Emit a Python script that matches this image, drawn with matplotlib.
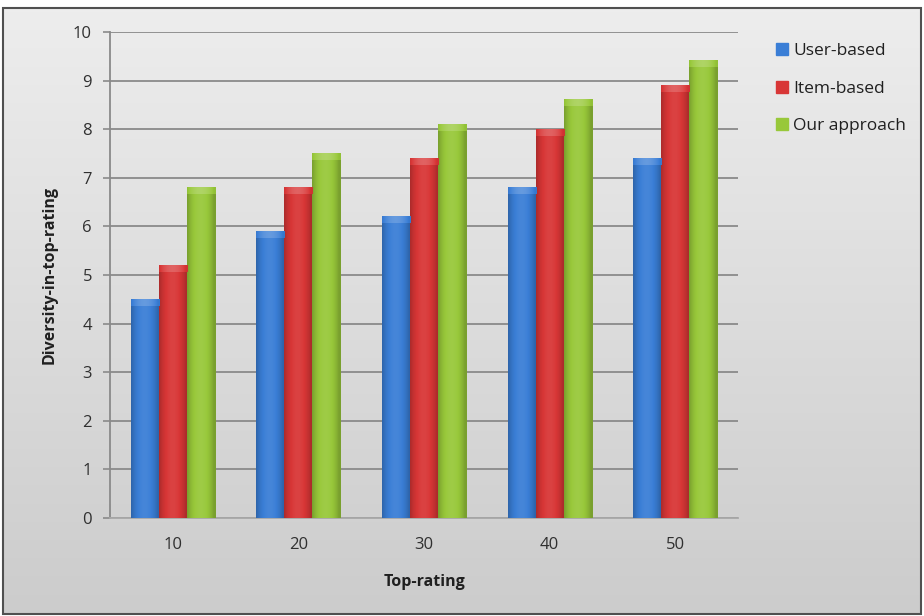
import numpy as np
import matplotlib
matplotlib.use("Agg")
import matplotlib.pyplot as plt
from matplotlib.colors import to_rgb
from matplotlib.lines import Line2D
from matplotlib.patches import Rectangle

plt.rcParams['font.family'] = ['Open Sans', 'DejaVu Sans']

categories = ["10", "20", "30", "40", "50"]
series_names = ["User-based", "Item-based", "Our approach"]
user_based = [4.5, 5.9, 6.2, 6.8, 7.4]
item_based = [5.2, 6.8, 7.4, 8.0, 8.9]
our_approach = [6.8, 7.5, 8.1, 8.6, 9.4]
y_ticks = [0, 1, 2, 3, 4, 5, 6, 7, 8, 9, 10]

colors = ["#3a7ed6", "#d83636", "#98c83a"]
series = [user_based, item_based, our_approach]

W, H = 924, 616
fig = plt.figure(figsize=(W / 100, H / 100), dpi=100)

# Background: white strip at top, grey gradient panel with dark border
bg = fig.add_axes([0, 0, 1, 1], zorder=-10)
bg.set_xlim(0, W)
bg.set_ylim(H, 0)
bg.axis("off")
grad = np.linspace(0.93, 0.80, 256)[:, None]
grad = np.repeat(grad, 2, axis=1)
bg.imshow(np.dstack([grad, grad, grad]), extent=(3, 921, 614, 8),
          aspect="auto", interpolation="bilinear")
bg.add_patch(Rectangle((3, 8), 918, 606, fill=False, ec="#505050", lw=1.5))

ax = fig.add_axes([110 / W, (H - 518) / H, 628 / W, (518 - 32) / H])
ax.patch.set_alpha(0)

x = np.arange(len(categories))
width = 0.223
offsets = [-width, 0, width]


def shade(rgb, f):
    rgb = np.array(rgb)
    if f >= 1:
        return rgb + (1 - rgb) * (f - 1)
    return rgb * f


t = np.linspace(0, 1, 128)
profile = 0.80 + 0.26 * np.sin(np.pi * np.clip(t * 1.1 - 0.02, 0, 1)) ** 0.8
cap_h = 0.13

for vals, col, off in zip(series, colors, offsets):
    base = to_rgb(col)
    bars = ax.bar(x + off, vals, width, color="none", edgecolor="none", zorder=3)
    body = np.array([[np.clip(shade(base, f), 0, 1) for f in profile]])
    cap = np.array([[np.clip(shade(base, f + 0.16), 0, 1) for f in profile]])
    for b in bars:
        x0, w, h = b.get_x(), b.get_width(), b.get_height()
        im = ax.imshow(body, extent=(x0, x0 + w, 0, h), aspect="auto",
                       interpolation="bilinear", zorder=3)
        im.set_clip_path(b)
        ax.imshow(cap, extent=(x0, x0 + w, h - cap_h, h), aspect="auto",
                  interpolation="bilinear", zorder=4)

ax.set_xlim(-0.5, len(categories) - 0.5)
ax.set_ylim(0, 10)
ax.set_yticks(y_ticks)
ax.set_xticks(x)
ax.set_xticklabels(categories)
ax.yaxis.grid(True, color="#8a8a8a", lw=1.3, zorder=0)
ax.set_axisbelow(True)

for s in ["top", "right"]:
    ax.spines[s].set_visible(False)
ax.spines["left"].set_color("#8a8a8a")
ax.spines["left"].set_linewidth(1.3)
ax.spines["bottom"].set_color("#a8a8a8")
ax.spines["bottom"].set_linewidth(1.3)
ax.tick_params(axis="y", length=5, color="#8a8a8a", width=1.2, labelsize=12,
               labelcolor="#303030", pad=8)
ax.tick_params(axis="x", length=0, labelsize=12, labelcolor="#303030", pad=14)

ax.set_xlabel("Top-rating", fontsize=11.5, fontweight="bold", color="#202020",
              labelpad=15)
ax.set_ylabel("Diversity-in-top-rating", fontsize=11.5, fontweight="bold",
              color="#202020", labelpad=11)

handles = [Line2D([], [], marker="s", ls="none", markersize=8,
                  markerfacecolor=c, markeredgecolor=c) for c in colors]
fig.legend(handles, series_names, loc="upper left",
           bbox_to_anchor=(760 / W, 1 - 27 / H), frameon=False,
           fontsize=12.5, handlelength=0.7, handletextpad=0.3,
           labelspacing=1.25, labelcolor="#202020")

fig.savefig("out.png", dpi=100)
